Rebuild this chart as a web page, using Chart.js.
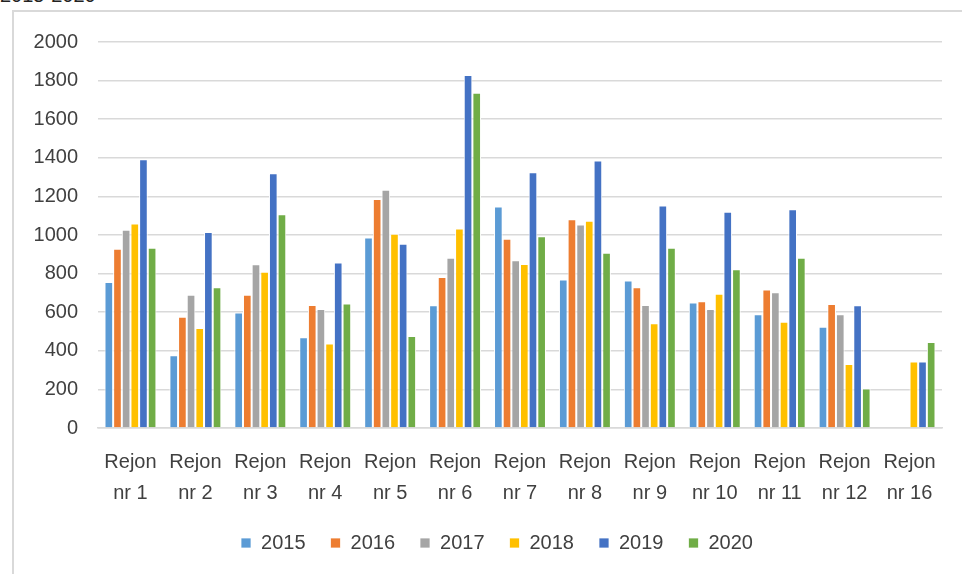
<!DOCTYPE html>
<html>
<head>
<meta charset="utf-8">
<script src="https://cdn.jsdelivr.net/npm/chart.js@4.4.1/dist/chart.umd.min.js"></script>
<style>
    html, body { margin: 0; padding: 0; background: #fff; overflow: hidden; }
    #wrap { position: relative; width: 962px; height: 574px; }
    #frame { position: absolute; left: 12px; top: 10px; width: 960px; height: 580px; border: 2px solid #D9D9D9; box-sizing: border-box; }
    #title { position: absolute; left: 0; top: -16px; font: 20px 'Liberation Sans', Arial, sans-serif; color: #222; }
    canvas { position: absolute; left: 0; top: 0; }
</style>
</head>
<body>
<div id="wrap">
    <div id="title">2015-2020</div>
    <div id="frame"></div>
    <canvas id="chart" width="962" height="574"></canvas>
</div>
<script>
// ====== Data ======
const regions = [
    ['Rejon', 'nr 1'], ['Rejon', 'nr 2'], ['Rejon', 'nr 3'], ['Rejon', 'nr 4'],
    ['Rejon', 'nr 5'], ['Rejon', 'nr 6'], ['Rejon', 'nr 7'], ['Rejon', 'nr 8'],
    ['Rejon', 'nr 9'], ['Rejon', 'nr 10'], ['Rejon', 'nr 11'], ['Rejon', 'nr 12'],
    ['Rejon', 'nr 16']
];
const years = ['2015', '2016', '2017', '2018', '2019', '2020'];
const v2015 = [756, 377, 598, 470, 987, 636, 1148, 769, 764, 650, 589, 524, null];
const v2016 = [929, 577, 691, 637, 1187, 782, 981, 1081, 729, 657, 717, 643, null];
const v2017 = [1027, 691, 849, 617, 1234, 882, 869, 1055, 637, 617, 703, 589, null];
const v2018 = [1060, 518, 810, 438, 1006, 1034, 850, 1074, 543, 696, 550, 331, 345];
const v2019 = [1392, 1015, 1320, 857, 955, 1829, 1325, 1386, 1153, 1120, 1134, 636, 345];
const v2020 = [934, 729, 1108, 645, 477, 1737, 994, 908, 934, 822, 882, 205, 445];
const yTicks = [0, 200, 400, 600, 800, 1000, 1200, 1400, 1600, 1800, 2000];

const colors = ['#5B9BD5', '#ED7D31', '#A5A5A5', '#FFC000', '#4472C4', '#70AD47'];
const series = [v2015, v2016, v2017, v2018, v2019, v2020];

const font = "'Liberation Sans', Arial, sans-serif";

// legend sits a bit right of the canvas centre in the original
const legendShift = {
    id: 'legendShift',
    afterLayout(chart) {
        chart.legend.left += 26;
        chart.legend.right += 26;
    }
};

new Chart(document.getElementById('chart'), {
    type: 'bar',
    data: {
        labels: regions,
        datasets: series.map((d, i) => ({
            label: years[i],
            data: d,
            backgroundColor: colors[i],
            borderColor: '#ffffff',
            borderWidth: { left: 1, right: 1, top: 1, bottom: 0 },
            barPercentage: 1,
            categoryPercentage: 0.8
        }))
    },
    plugins: [legendShift],
    options: {
        responsive: false,
        animation: false,
        layout: { padding: { top: 42, right: 20, left: 0, bottom: 11 } },
        plugins: {
            tooltip: { enabled: false },
            legend: {
                position: 'bottom',
                labels: {
                    font: { size: 20, family: font },
                    color: '#404040',
                    boxWidth: 10,
                    boxHeight: 10,
                    padding: 25
                }
            }
        },
        scales: {
            y: {
                min: 0,
                max: 2000,
                afterBuildTicks: s => { s.ticks = yTicks.map(v => ({ value: v })); },
                afterFit: s => { s.width = 98; },
                grid: { color: '#D9D9D9', lineWidth: 1.5, drawTicks: false },
                border: { display: false },
                ticks: {
                    font: { size: 20, family: font },
                    color: '#404040',
                    padding: 20,
                    callback: v => String(v)
                }
            },
            x: {
                grid: { display: false },
                border: { color: '#D9D9D9', width: 1.5 },
                afterFit: s => { s.height = 80; },
                ticks: {
                    font: { size: 20, family: font, lineHeight: 1.55 },
                    color: '#404040',
                    maxRotation: 0,
                    autoSkip: false,
                    padding: 11
                }
            }
        }
    }
});
</script>
</body>
</html>
